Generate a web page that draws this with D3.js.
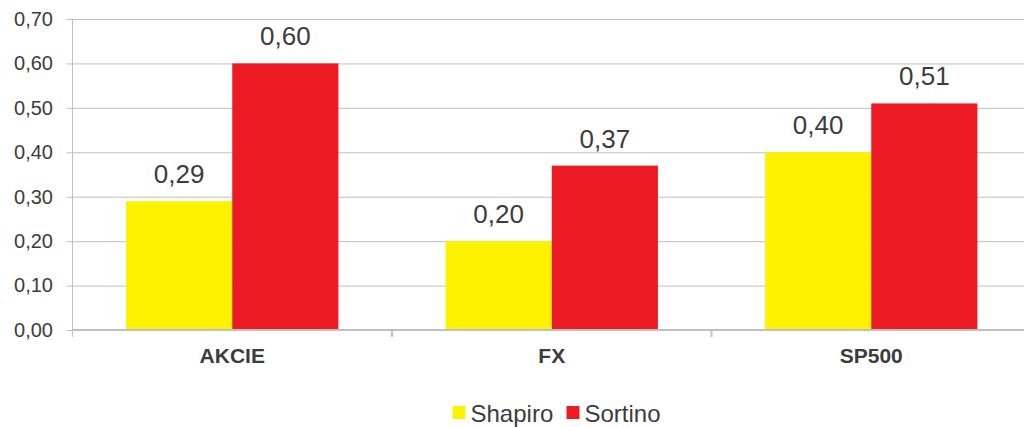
<!DOCTYPE html>
<html>
<head>
<meta charset="utf-8">
<script src="https://cdn.jsdelivr.net/npm/d3@7"></script>
<style>
  html, body { margin: 0; padding: 0; background: #fff; overflow: hidden; }
  svg { display: block; font-family: "Liberation Sans", Arial, sans-serif; }
</style>
</head>
<body>
<svg id="chart" width="1024" height="427"></svg>
<script>
// Ratio values per market
const categories = ["AKCIE", "FX", "SP500"];
const seriesNames = ["Shapiro", "Sortino"];
const shapiro = [0.29, 0.20, 0.40];
const sortino = [0.60, 0.37, 0.51];
const yTicks = [0, 0.1, 0.2, 0.3, 0.4, 0.5, 0.6, 0.7];
const colors = ["#FFF200", "#ED1C24"];

const svg = d3.select("#chart");
const margin = { left: 72.5, right: 1031, top: 19, bottom: 330 };
const textColor = "#3c3c3c";
const gridColor = "#c0c0c0";

const fmt = v => d3.format(".2f")(v).replace(".", ",");

const y = d3.scaleLinear().domain([0, 0.7]).range([margin.bottom, margin.top]);
const x0 = d3.scaleBand().domain(categories)
  .range([margin.left, margin.right])
  .paddingInner(0.3354).paddingOuter(0.1677);
const x1 = d3.scaleBand().domain(seriesNames).range([0, x0.bandwidth()]);

const rows = categories.map((c, i) => ({
  cat: c,
  values: [
    { name: "Shapiro", v: shapiro[i] },
    { name: "Sortino", v: sortino[i] }
  ]
}));

// Horizontal gridlines with short tick marks to the left
const yAxis = d3.axisLeft(y).tickValues(yTicks).tickFormat(fmt)
  .tickSize(-(margin.right - margin.left)).tickSizeOuter(0).tickPadding(19.5);
const gy = svg.append("g").attr("transform", `translate(${margin.left},0)`).call(yAxis);
gy.select(".domain").remove();
gy.selectAll(".tick line").attr("stroke", gridColor).attr("stroke-width", 1)
  .attr("x1", -6);
gy.selectAll(".tick text").attr("fill", textColor).attr("font-size", 20);

// Bars
const groups = svg.append("g").selectAll("g").data(rows).join("g")
  .attr("transform", d => `translate(${x0(d.cat)},0)`);
groups.selectAll("rect").data(d => d.values).join("rect")
  .attr("x", d => x1(d.name))
  .attr("width", x1.bandwidth())
  .attr("y", d => y(d.v))
  .attr("height", d => y(0) - y(d.v))
  .attr("fill", (d, i) => colors[i]);

// Value labels above each bar
groups.selectAll("text").data(d => d.values).join("text")
  .attr("x", d => x1(d.name) + x1.bandwidth() / 2)
  .attr("y", d => y(d.v) - 18)
  .attr("text-anchor", "middle")
  .attr("fill", textColor)
  .attr("font-size", 26)
  .text(d => fmt(d.v));

// Left axis line
svg.append("line")
  .attr("x1", margin.left).attr("x2", margin.left)
  .attr("y1", margin.top).attr("y2", margin.bottom + 7)
  .attr("stroke", gridColor).attr("stroke-width", 1);

// Category axis
const step = x0.step();
const xAxisG = svg.append("g");
xAxisG.append("line")
  .attr("x1", margin.left).attr("x2", margin.right)
  .attr("y1", y(0)).attr("y2", y(0))
  .attr("stroke", gridColor).attr("stroke-width", 2);
const boundaries = categories.slice(1).map(c => x0(c) - (step - x0.bandwidth()) / 2);
xAxisG.selectAll("line.sep").data(boundaries).join("line")
  .attr("class", "sep")
  .attr("x1", d => d).attr("x2", d => d)
  .attr("y1", y(0)).attr("y2", y(0) + 7)
  .attr("stroke", gridColor).attr("stroke-width", 2);
xAxisG.selectAll("text").data(categories).join("text")
  .attr("x", d => x0(d) + x0.bandwidth() / 2)
  .attr("y", 363)
  .attr("text-anchor", "middle")
  .attr("font-weight", "bold")
  .attr("font-size", 21)
  .attr("fill", textColor)
  .text(d => d);

// Legend
const legend = svg.append("g").attr("transform", "translate(452.5,406)");
const legendX = [0, 114];
seriesNames.forEach((name, i) => {
  const g = legend.append("g").attr("transform", `translate(${legendX[i]},0)`);
  g.append("rect").attr("width", 13).attr("height", 13).attr("fill", colors[i]);
  g.append("text").attr("x", 18).attr("y", 15.5)
    .attr("font-size", 24).attr("fill", textColor).text(name);
});
</script>
</body>
</html>
